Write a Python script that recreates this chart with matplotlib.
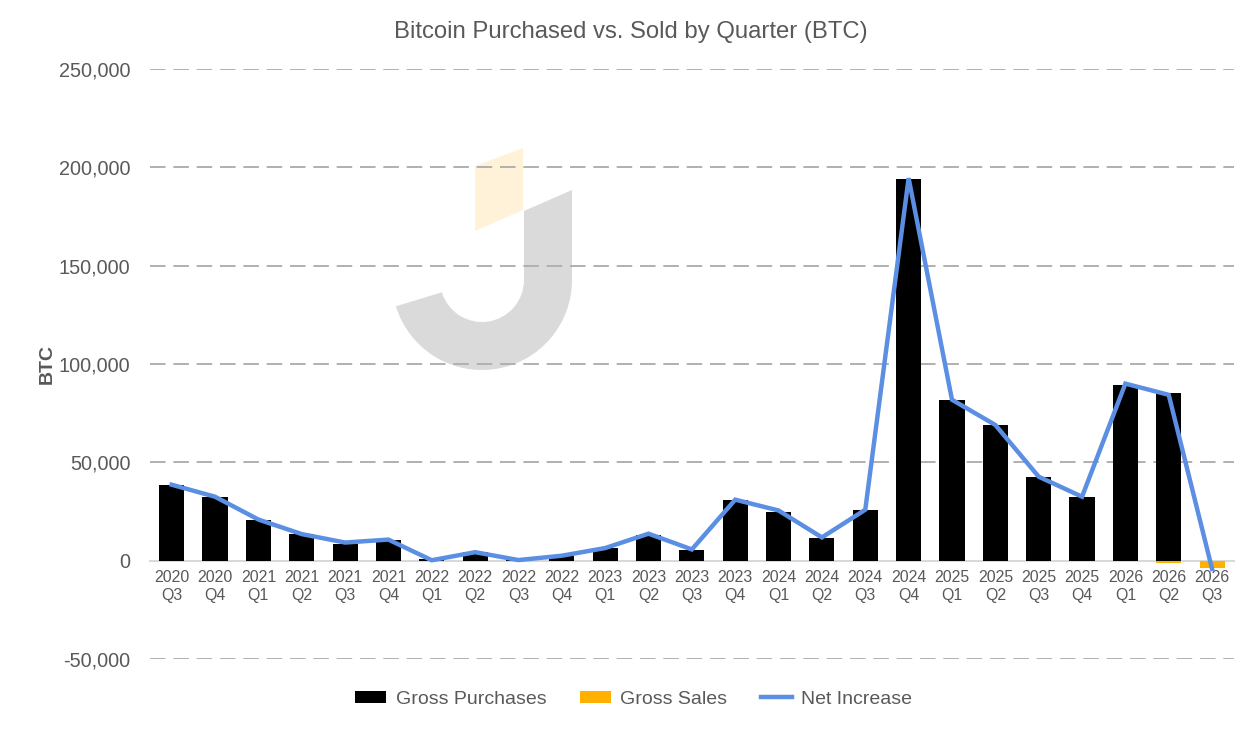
import matplotlib
matplotlib.use("Agg")
import matplotlib.pyplot as plt
from matplotlib.patches import Polygon, Wedge, Patch
from matplotlib.lines import Line2D
from matplotlib.ticker import FuncFormatter, MultipleLocator

plt.rcParams['font.family'] = ['Liberation Sans', 'DejaVu Sans']

quarters = ["2020\nQ3", "2020\nQ4",
            "2021\nQ1", "2021\nQ2", "2021\nQ3", "2021\nQ4",
            "2022\nQ1", "2022\nQ2", "2022\nQ3", "2022\nQ4",
            "2023\nQ1", "2023\nQ2", "2023\nQ3", "2023\nQ4",
            "2024\nQ1", "2024\nQ2", "2024\nQ3", "2024\nQ4",
            "2025\nQ1", "2025\nQ2", "2025\nQ3", "2025\nQ4",
            "2026\nQ1", "2026\nQ2", "2026\nQ3"]
gross_purchases = [38250, 32200, 20900, 13700, 8700, 10300, 660, 4170, 300, 2500,
                   6200, 13200, 5600, 31000, 24900, 11700, 25900, 194000,
                   81800, 69100, 42700, 32500, 89400, 85300, 0]
gross_sales = [0, 0, 0, 0, 0, 0, 0, 0, 0, 0,
               0, 0, 0, 0, 0, 0, 0, 0,
               0, 0, 0, 0, 0, -1000, -3900]
net_increase = [38600, 32500, 20900, 13500, 9200, 10700, 200, 4300, 300, 2500,
                6400, 13700, 5700, 31000, 25500, 11800, 25900, 194500,
                81800, 69000, 42700, 32500, 90000, 84300, -4200]

TXT = "#595959"
fig = plt.figure(figsize=(12.5, 7.4), dpi=100)

# watermark logo (decorative) in pixel coordinates
bg = fig.add_axes([0, 0, 1, 1], zorder=0)
bg.set_xlim(0, 1250)
bg.set_ylim(740, 0)
bg.axis('off')
bg.add_patch(Polygon([(475, 166), (523, 148), (523, 210), (475, 231)],
                     closed=True, facecolor="#FFF2D9", edgecolor='none'))
bg.add_patch(Polygon([(524, 211), (572, 190), (572, 284), (524, 284)],
                     closed=True, facecolor="#DADADA", edgecolor='none'))
bg.add_patch(Wedge((482, 280), 90, 0, 163, width=48,
                   facecolor="#DADADA", edgecolor='none'))

ax = fig.add_axes([0.12, 0.1095, 0.867, 0.7973], zorder=1)
ax.set_facecolor('none')
x = list(range(len(quarters)))
ax.bar(x, gross_purchases, width=0.58, color="black", zorder=3)
ax.bar(x, gross_sales, width=0.58, color="#FFB000", zorder=3)
ax.plot(x, net_increase, color="#5B8FE3", lw=3.2, zorder=4,
        solid_joinstyle='miter')

ax.set_ylim(-50000, 250000)
ax.set_xlim(-0.5, len(quarters) - 0.5)
ax.yaxis.set_major_locator(MultipleLocator(50000))
ax.yaxis.set_major_formatter(FuncFormatter(lambda v, p: f"{int(v):,}"))
for k in ['top', 'left', 'right']:
    ax.spines[k].set_visible(False)
ax.spines['bottom'].set_position(('data', 0))
ax.spines['bottom'].set_color("#D9D9D9")
ax.spines['bottom'].set_linewidth(1.5)
ax.spines['bottom'].set_zorder(2)
ax.tick_params(axis='both', length=0, colors=TXT)
ax.tick_params(axis='y', labelsize=14.3, pad=14)
ax.tick_params(axis='x', labelsize=11.4, pad=7)
ax.set_xticks(x)
ax.set_xticklabels(quarters, linespacing=1.25)

for v in range(-50000, 250001, 50000):
    if v != 0:
        ax.axhline(v, color="#B0B0B0", lw=1.4, dashes=(8, 4), zorder=1)

ax.set_ylabel("BTC", fontsize=14, fontweight='bold', color=TXT, labelpad=2)
fig.text(0.505, 0.957, "Bitcoin Purchased vs. Sold by Quarter (BTC)",
         ha='center', va='center', fontsize=17.2, color=TXT)

handles = [Patch(facecolor='black'), Patch(facecolor='#FFB000'),
           Line2D([0], [0], color="#5B8FE3", lw=3.2)]
leg = fig.legend(handles, ["Gross Purchases", "Gross Sales", "Net Increase"],
                 loc='center', bbox_to_anchor=(0.507, 0.055), ncol=3,
                 frameon=False, fontsize=14, handlelength=1.6, handleheight=0.55,
                 handletextpad=0.5, columnspacing=1.7, labelcolor=TXT)

fig.canvas.draw()
for t in ax.get_xticklabels():
    t.set_linespacing(1.25)
fig.savefig("out.png", dpi=100)
